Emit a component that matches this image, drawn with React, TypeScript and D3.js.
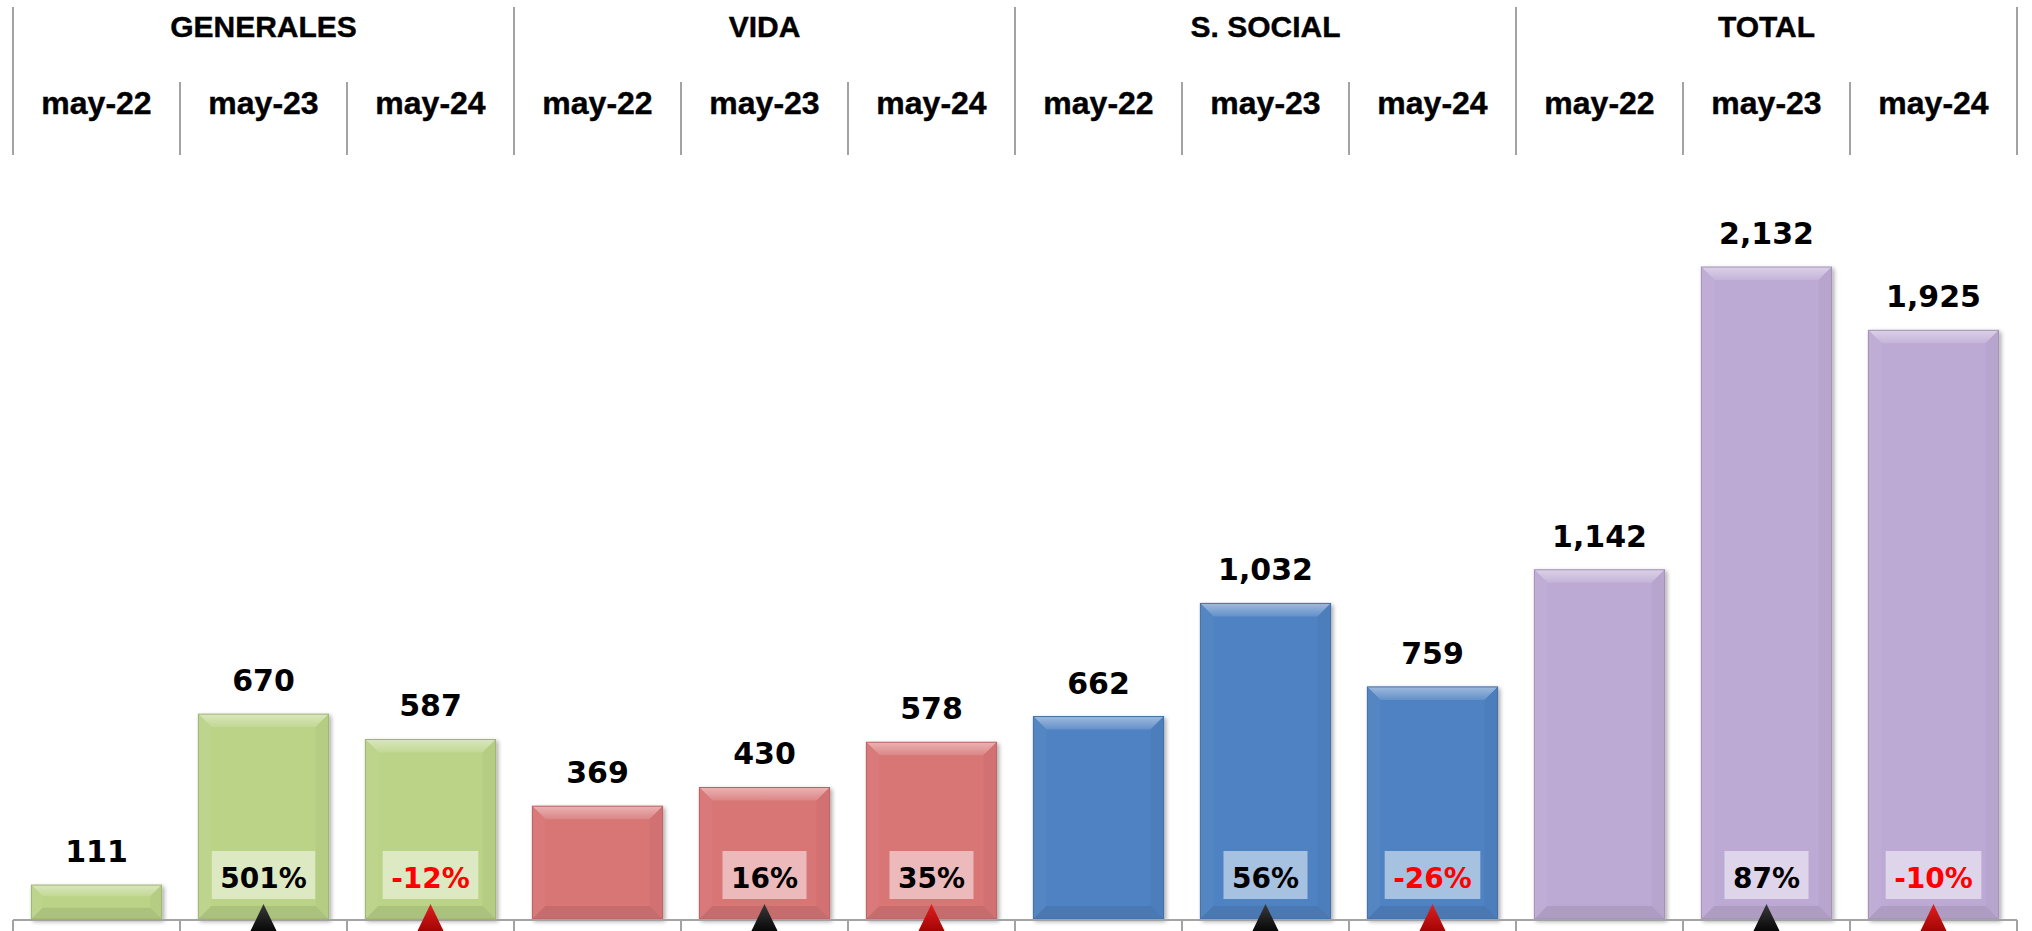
import React from "react";
import * as d3 from "d3";

const groups = ["GENERALES", "VIDA", "S. SOCIAL", "TOTAL"];
const periods = ["may-22", "may-23", "may-24"];

const generales = [111, 670, 587];
const vida = [369, 430, 578];
const social = [662, 1032, 759];
const total = [1142, 2132, 1925];

// variation vs previous year (%), none for the first year
const generalesChg = [null, 501, -12];
const vidaChg = [null, 16, 35];
const socialChg = [null, 56, -26];
const totalChg = [null, 87, -10];

const groupColors = ["#bad387", "#d87575", "#4f82c2", "#bdaad4"];

const W = 2032;
const H = 931;

const series = [generales, vida, social, total];
const changes = [generalesChg, vidaChg, socialChg, totalChg];

const rows = groups.flatMap((g, gi) =>
  periods.map((p, pi) => ({
    key: `${g}|${p}`,
    group: g,
    gi,
    period: p,
    pi,
    value: series[gi][pi],
    chg: changes[gi][pi],
  }))
);

const x = d3
  .scaleBand<string>()
  .domain(rows.map((d) => d.key))
  .range([13, 2017])
  .padding(0);

const gx = d3.scaleBand<string>().domain(groups).range([13, 2017]).padding(0);

const y = d3
  .scaleLinear()
  .domain([0, d3.max(total) as number])
  .range([919, 267]);

const fmt = d3.format(",");
const lineColor = "#a3a3a3";

const mix = (c: string, target: string, t: number) =>
  d3.interpolateRgb(c, target)(t);

// rough DejaVu Sans Bold advance widths (em)
const charW = (s: string) =>
  d3.sum(s.split(""), (ch) => (ch === "%" ? 1.002 : ch === "-" ? 0.415 : 0.696));

const Bar = ({ x0, x1, y0, y1, color }: any) => {
  const h = y1 - y0;
  const b = Math.min(13, h / 3);
  return (
    <g filter="url(#shadow)">
      <rect x={x0} y={y0} width={x1 - x0} height={h} fill={color} />
      <polygon
        points={`${x0},${y0} ${x1},${y0} ${x1 - b},${y0 + b} ${x0 + b},${y0 + b}`}
        fill="url(#topBevel)"
      />
      <polygon
        points={`${x0},${y0} ${x0 + b},${y0 + b} ${x0 + b},${y1 - b} ${x0},${y1}`}
        fill={mix(color, "#ffffff", 0.03)}
      />
      <polygon
        points={`${x1},${y0} ${x1 - b},${y0 + b} ${x1 - b},${y1 - b} ${x1},${y1}`}
        fill={mix(color, "#000000", 0.03)}
      />
      <polygon
        points={`${x0},${y1} ${x0 + b},${y1 - b} ${x1 - b},${y1 - b} ${x1},${y1}`}
        fill={mix(color, "#000000", 0.08)}
      />
      <rect
        x={x0}
        y={y0}
        width={x1 - x0}
        height={h}
        fill="none"
        stroke={mix(color, "#000000", 0.15)}
        strokeWidth={1}
      />
    </g>
  );
};

export default function App() {
  const bw = x.bandwidth() * 0.78;
  const pctFont = 28;
  return (
    <svg
      width={W}
      height={H}
      style={{ position: "absolute", left: 0, top: 0, display: "block" }}
    >
      <defs>
        <filter id="shadow" x="-10%" y="-10%" width="130%" height="130%">
          <feDropShadow dx="2" dy="2" stdDeviation="2" floodColor="#000" floodOpacity="0.35" />
        </filter>
        <linearGradient id="topBevel" x1="0" y1="0" x2="0" y2="1">
          <stop offset="0%" stopColor="#ffffff" stopOpacity={0.45} />
          <stop offset="100%" stopColor="#ffffff" stopOpacity={0.12} />
        </linearGradient>
        <linearGradient id="triBlack" x1="0" y1="0" x2="0" y2="1">
          <stop offset="0%" stopColor="#3a3a3a" />
          <stop offset="100%" stopColor="#000000" />
        </linearGradient>
        <linearGradient id="triRed" x1="0" y1="0" x2="0" y2="1">
          <stop offset="0%" stopColor="#e02020" />
          <stop offset="100%" stopColor="#9a0000" />
        </linearGradient>
      </defs>
      <rect width={W} height={H} fill="#ffffff" />

      {/* header */}
      {groups.map((g) => (
        <g key={g}>
          <line
            x1={gx(g)}
            x2={gx(g)}
            y1={7}
            y2={155}
            stroke={lineColor}
            strokeWidth={2}
          />
          <text
            x={(gx(g) as number) + gx.bandwidth() / 2}
            y={37}
            textAnchor="middle"
            fontFamily="'Liberation Sans', Arial, sans-serif"
            fontWeight="bold"
            fontSize={30}
            stroke="#000"
            strokeWidth={0.4}
          >
            {g}
          </text>
        </g>
      ))}
      <line x1={2017} x2={2017} y1={7} y2={155} stroke={lineColor} strokeWidth={2} />
      {rows.map((d) => (
        <g key={"h" + d.key}>
          {d.pi > 0 && (
            <line
              x1={x(d.key)}
              x2={x(d.key)}
              y1={82}
              y2={155}
              stroke={lineColor}
              strokeWidth={2}
            />
          )}
          <text
            x={(x(d.key) as number) + x.bandwidth() / 2}
            y={114}
            textAnchor="middle"
            fontFamily="'Liberation Sans', Arial, sans-serif"
            fontWeight="bold"
            fontSize={32}
            stroke="#000"
            strokeWidth={0.4}
          >
            {d.period}
          </text>
        </g>
      ))}

      {/* bars */}
      {rows.map((d) => {
        const cx = (x(d.key) as number) + x.bandwidth() / 2;
        return (
          <Bar
            key={"b" + d.key}
            x0={cx - bw / 2}
            x1={cx + bw / 2}
            y0={y(d.value)}
            y1={y(0)}
            color={groupColors[d.gi]}
          />
        );
      })}

      {/* axis */}
      <line x1={13} x2={2017} y1={920} y2={920} stroke={lineColor} strokeWidth={2} />
      {rows.map((d) => (
        <line
          key={"t" + d.key}
          x1={x(d.key)}
          x2={x(d.key)}
          y1={920}
          y2={H}
          stroke={lineColor}
          strokeWidth={2}
        />
      ))}
      <line x1={2017} x2={2017} y1={920} y2={H} stroke={lineColor} strokeWidth={2} />

      {/* value labels */}
      {rows.map((d) => (
        <text
          key={"v" + d.key}
          x={(x(d.key) as number) + x.bandwidth() / 2}
          y={y(d.value) - 23}
          textAnchor="middle"
          fontFamily="'DejaVu Sans', Verdana, sans-serif"
          fontWeight="bold"
          fontSize={30}
        >
          {fmt(d.value)}
        </text>
      ))}

      {/* variation boxes and arrows */}
      {rows
        .filter((d) => d.chg !== null)
        .map((d) => {
          const cx = (x(d.key) as number) + x.bandwidth() / 2;
          const label = `${d.chg}%`;
          const tw = charW(label) * pctFont + 17;
          return (
            <g key={"c" + d.key}>
              <rect
                x={cx - tw / 2}
                y={851}
                width={tw}
                height={48}
                fill="#ffffff"
                fillOpacity={0.5}
              />
              <text
                x={cx}
                y={888}
                textAnchor="middle"
                fontFamily="'DejaVu Sans', Verdana, sans-serif"
                fontWeight="bold"
                fontSize={pctFont}
                fill={(d.chg as number) < 0 ? "#ff0000" : "#000000"}
              >
                {label}
              </text>
              <polygon
                points={`${cx},904 ${cx + 15},935 ${cx - 15},935`}
                fill={d.pi === 1 ? "url(#triBlack)" : "url(#triRed)"}
              />
            </g>
          );
        })}
    </svg>
  );
}
